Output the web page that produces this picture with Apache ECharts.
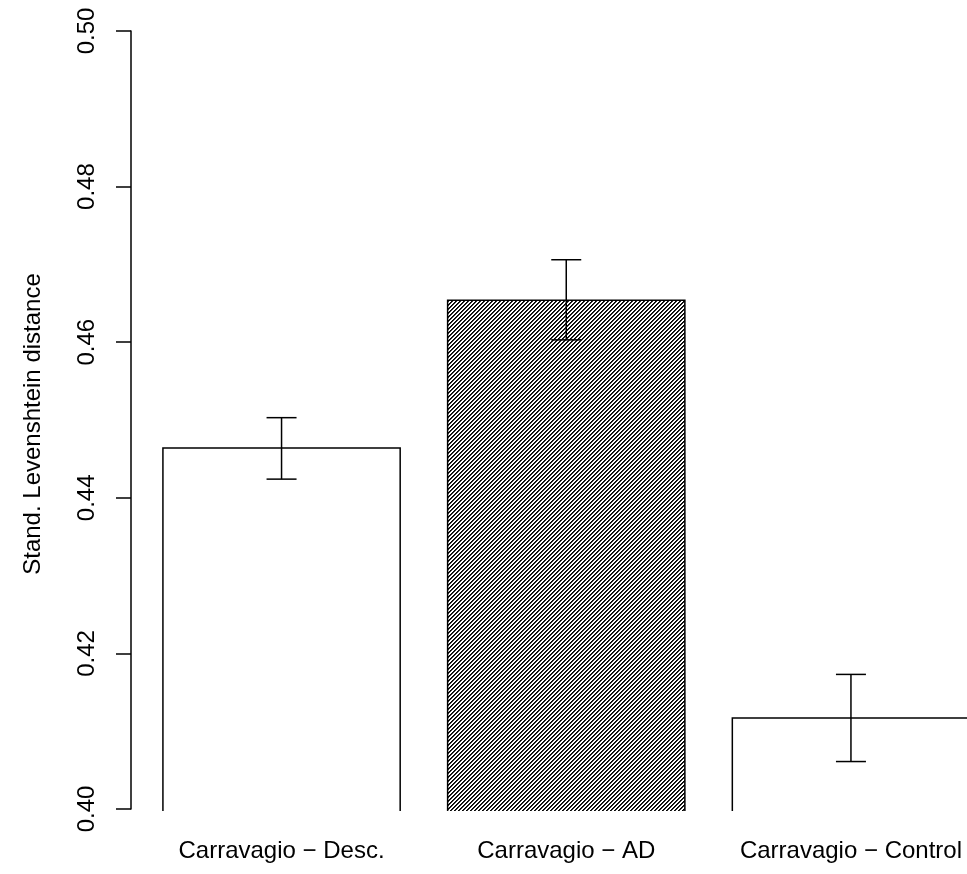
<!DOCTYPE html>
<html>
<head>
<meta charset="utf-8">
<script src="https://cdn.jsdelivr.net/npm/echarts@6/dist/echarts.min.js"></script>
<style>
  html, body { margin: 0; padding: 0; background: #fff; overflow: hidden; }
  #chart { width: 967px; height: 874px; }
</style>
</head>
<body>
<div id="chart"></div>
<script>
// ---- data ----
var categories = ['Carravagio \u2212 Desc.', 'Carravagio \u2212 AD', 'Carravagio \u2212 Control'];
var means = [0.4464, 0.4654, 0.4117];
var upper = [0.4503, 0.4706, 0.4173];
var lower = [0.4424, 0.4603, 0.4061];
var hatched = [false, true, false];
var yMin = 0.40, yMax = 0.50, yInterval = 0.02;
var yTitle = 'Stand. Levenshtein distance';

// ---- hatch pattern ----
function makeHatch() {
  var P = 4;
  var c = document.createElement('canvas');
  c.width = P; c.height = P;
  var ctx = c.getContext('2d');
  var img = ctx.createImageData(P, P);
  for (var y = 0; y < P; y++) {
    for (var x = 0; x < P; x++) {
      var i = (y * P + x) * 4;
      var k = (x + y) % P;
      var v = k === 0 ? 0 : (k === 1 ? 40 : 255);
      img.data[i] = v; img.data[i + 1] = v; img.data[i + 2] = v; img.data[i + 3] = 255;
    }
  }
  ctx.putImageData(img, 0, 0);
  return c;
}
var hatchFill = { image: makeHatch(), repeat: 'repeat' };

var font = '"Liberation Sans", Arial, Helvetica, sans-serif';
var LW = 1.5;

// layout
var axisTop = 31, axisHeight = 778;
var barHeight = 780;                 // bars run slightly below the 0.40 tick
var barMin = yMax - (yMax - yMin) * barHeight / axisHeight;
var gridLeft = 139.2, bandPx = 284.7, W = 967;
var xMaxVal = -0.5 + (W - gridLeft) / bandPx;   // right edge cuts through third bar

var chart = echarts.init(document.getElementById('chart'), null, { renderer: 'canvas' });

var barData = categories.map(function (c, i) { return [i, means[i], hatched[i] ? 1 : 0]; });
var errData = categories.map(function (c, i) { return [i, lower[i], upper[i]]; });

chart.setOption({
  animation: false,
  backgroundColor: '#ffffff',
  grid: [
    { left: 131, top: axisTop, width: 600, height: axisHeight, containLabel: false },
    { left: gridLeft, top: axisTop, right: 0, height: barHeight, containLabel: false }
  ],
  xAxis: [
    { gridIndex: 0, type: 'value', show: false, min: 0, max: 1 },
    {
      gridIndex: 1, type: 'value', min: -0.5, max: xMaxVal,
      axisLine: { show: false }, axisTick: { show: false }, splitLine: { show: false },
      axisLabel: {
        color: '#000', fontSize: 24, fontFamily: font, margin: 28,
        customValues: [0, 1, 2],
        formatter: function (v) { return categories[Math.round(v)] || ''; }
      }
    }
  ],
  yAxis: [
    {
      gridIndex: 0, type: 'value', min: yMin, max: yMax, interval: yInterval,
      axisLine: { show: true, lineStyle: { color: '#000', width: LW } },
      axisTick: { show: true, length: 15, inside: false, lineStyle: { color: '#000', width: LW } },
      splitLine: { show: false },
      axisLabel: {
        color: '#000', fontSize: 24, fontFamily: font, rotate: 90, margin: 32,
        formatter: function (v) { return v.toFixed(2); }
      },
      name: yTitle, nameLocation: 'middle', nameRotate: 90, nameGap: 86,
      nameTextStyle: { color: '#000', fontSize: 24, fontFamily: font, padding: [0, 8, 0, 0] }
    },
    { gridIndex: 1, type: 'value', min: barMin, max: yMax, show: false }
  ],
  series: [
    {
      type: 'custom',
      xAxisIndex: 1, yAxisIndex: 1,
      data: barData,
      renderItem: function (params, api) {
        var i = api.value(0);
        var top = api.coord([i, api.value(1)]);
        var base = api.coord([i, barMin]);
        var band = api.size([1, 0])[0];
        var w = band / 1.2;
        var x0 = top[0] - w / 2, x1 = top[0] + w / 2;
        var fill = api.value(2) ? hatchFill : '#ffffff';
        return {
          type: 'group',
          children: [
            { type: 'rect', shape: { x: x0, y: top[1], width: w, height: base[1] - top[1] },
              style: { fill: fill, stroke: null } },
            { type: 'polyline', shape: { points: [[x0, base[1] + 2], [x0, top[1]], [x1, top[1]], [x1, base[1] + 2]] },
              style: { fill: null, stroke: '#000', lineWidth: LW } }
          ]
        };
      },
      clip: true,
      z: 2
    },
    {
      type: 'custom',
      xAxisIndex: 1, yAxisIndex: 1,
      data: errData,
      renderItem: function (params, api) {
        var i = api.value(0);
        var lo = api.coord([i, api.value(1)]);
        var hi = api.coord([i, api.value(2)]);
        var cw = 15;
        var st = { stroke: '#000', lineWidth: LW };
        return {
          type: 'group',
          children: [
            { type: 'line', shape: { x1: lo[0], y1: lo[1], x2: hi[0], y2: hi[1] }, style: st },
            { type: 'line', shape: { x1: lo[0] - cw, y1: lo[1], x2: lo[0] + cw, y2: lo[1] }, style: st },
            { type: 'line', shape: { x1: hi[0] - cw, y1: hi[1], x2: hi[0] + cw, y2: hi[1] }, style: st }
          ]
        };
      },
      z: 3
    }
  ]
});
</script>
</body>
</html>
